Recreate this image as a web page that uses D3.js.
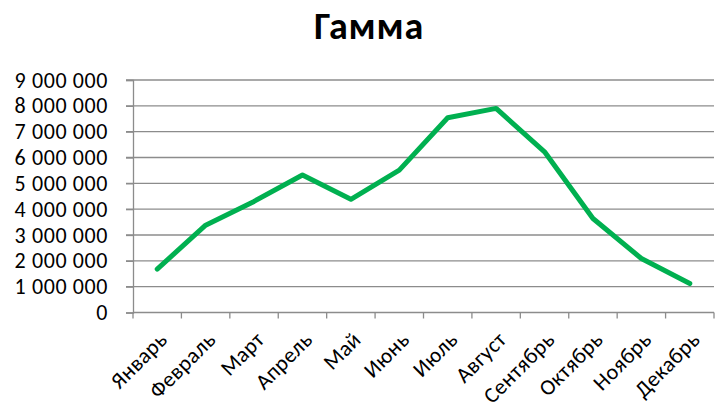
<!DOCTYPE html>
<html>
<head>
<meta charset="utf-8">
<script src="https://cdn.jsdelivr.net/npm/d3@7"></script>
<style>
  html, body { margin: 0; padding: 0; background: #fff; }
  svg text { font-family: Carlito, Lato, "Open Sans", sans-serif; fill: #000; }
</style>
</head>
<body>
<svg id="chart" width="720" height="413"></svg>
<script>
const title = "Гамма";
const months = ["Январь", "Февраль", "Март", "Апрель", "Май", "Июнь",
                "Июль", "Август", "Сентябрь", "Октябрь", "Ноябрь", "Декабрь"];
const values = [1680000, 3380000, 4300000, 5320000, 4380000, 5510000,
                7540000, 7900000, 6220000, 3640000, 2090000, 1120000];
const yTicks = [0, 1000000, 2000000, 3000000, 4000000, 5000000,
                6000000, 7000000, 8000000, 9000000];

const svg = d3.select("#chart");
const plot = { left: 133, right: 714, top: 80, bottom: 312.5 };

const x = d3.scaleBand().domain(months).range([plot.left, plot.right]);
const y = d3.scaleLinear().domain([0, 9000000]).range([plot.bottom, plot.top]);

const fmt = v => v === 0 ? "0" : d3.format(",")(v).replace(/,/g, "\u00a0");

// horizontal gridlines
svg.append("g")
  .selectAll("line")
  .data(yTicks.filter(d => d > 0))
  .join("line")
  .attr("x1", plot.left - 7).attr("x2", plot.right)
  .attr("y1", d => y(d)).attr("y2", d => y(d))
  .attr("stroke", "#8c8c8c").attr("stroke-width", 1.3);

// y axis
const yAxis = svg.append("g")
  .attr("transform", `translate(${plot.left},0)`)
  .call(d3.axisLeft(y).tickValues(yTicks).tickFormat(fmt).tickSize(7).tickPadding(18));
yAxis.select(".domain").attr("stroke", "#8c8c8c").attr("stroke-width", 1.3);
yAxis.selectAll(".tick line").attr("stroke", "#8c8c8c").attr("stroke-width", 1.3);
yAxis.selectAll("text")
  .attr("font-size", 22)
  .attr("letter-spacing", 0.6)
  .attr("fill", "#000");

// x axis with tick marks on category boundaries
const xAxisG = svg.append("g").attr("transform", `translate(0,${plot.bottom})`);
xAxisG.append("line")
  .attr("x1", plot.left).attr("x2", plot.right)
  .attr("stroke", "#8c8c8c").attr("stroke-width", 1.3);
const bounds = months.map(m => x(m)).concat([plot.right]);
xAxisG.selectAll("line.tk")
  .data(bounds)
  .join("line").attr("class", "tk")
  .attr("x1", d => d).attr("x2", d => d)
  .attr("y1", 0).attr("y2", 6)
  .attr("stroke", "#8c8c8c").attr("stroke-width", 1.3);
xAxisG.selectAll("text")
  .data(months)
  .join("text")
  .attr("transform", d => `translate(${x(d) + x.bandwidth() / 2 + 6},${23}) rotate(-45)`)
  .attr("text-anchor", "end")
  .attr("dy", "0.35em")
  .attr("font-size", 22)
  .attr("letter-spacing", 0.4)
  .text(d => d);

// data line
const line = d3.line()
  .x((d, i) => x(months[i]) + x.bandwidth() / 2)
  .y(d => y(d));
svg.append("path")
  .datum(values)
  .attr("d", line)
  .attr("fill", "none")
  .attr("stroke", "#00b050")
  .attr("stroke-width", 5)
  .attr("stroke-linejoin", "round")
  .attr("stroke-linecap", "round");

// title
svg.append("text")
  .attr("x", 369).attr("y", 39)
  .attr("text-anchor", "middle")
  .attr("font-size", 38)
  .attr("font-weight", "bold")
  .attr("letter-spacing", 0.8)
  .text(title);
</script>
</body>
</html>
